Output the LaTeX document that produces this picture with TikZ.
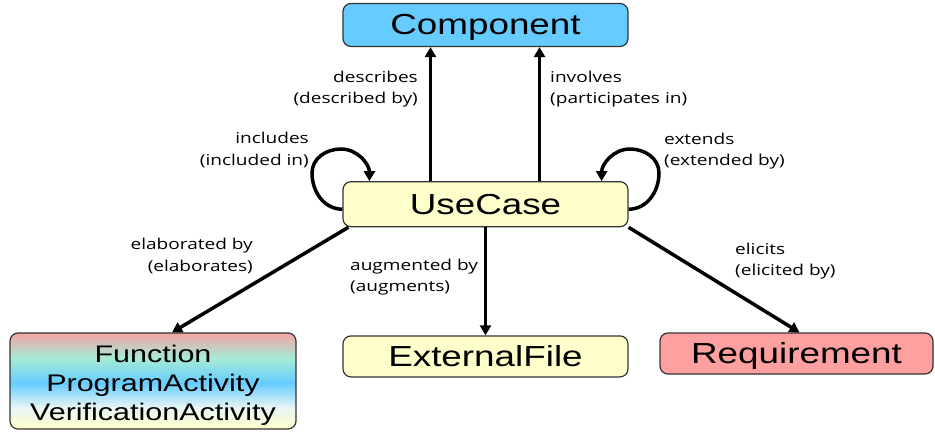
\documentclass[tikz,border=0pt]{standalone}
\usepackage{fontspec}
\usetikzlibrary{arrows.meta, positioning, calc}
\newfontfamily\boxfont[FakeStretch=1.27]{Liberation Sans}
\newfontfamily\lblfont[FakeStretch=1.27]{Open Sans}

\definecolor{compblue}{HTML}{66CCFF}
\definecolor{ucyellow}{HTML}{FFFFCC}
\definecolor{reqred}{HTML}{FFA0A0}
\definecolor{fnpink}{HTML}{F4A4A4}
\definecolor{fnmint}{HTML}{A6EBD6}
\definecolor{fnwhite}{HTML}{E8F6F4}

\pgfdeclareverticalshading{fnshade}{100bp}{%
	color(0bp)=(ucyellow); color(25bp)=(ucyellow); color(36bp)=(fnwhite);
	color(49bp)=(compblue); color(62bp)=(fnmint); color(75bp)=(fnpink);
	color(100bp)=(fnpink)}

\begin{document}
\begin{tikzpicture}[
		x=1pt, y=-1pt,
		box/.style={
			draw=black!80,
			line width=1.2pt,
			rectangle,
			rounded corners=8pt,
			align=center,
			inner sep=0pt,
			minimum width=285pt,
			minimum height=43pt,
			text height=26pt,
			text depth=6pt,
			font=\boxfont\fontsize{29}{34}\selectfont
		},
		lbl/.style={
			inner sep=0pt,
			font=\lblfont\fontsize{15}{21.5}\selectfont
		},
		arrow/.style={-{Triangle[length=10pt,width=11pt]}, line width=3.5pt}
		]
		\useasboundingbox (0,0) rectangle (935,433);
		
		% ---- Nodes ----
		\node[box, fill=compblue] (component) at (485.5,25) {Component};
		
		\node[box, fill=ucyellow, minimum height=45pt, below=134pt of component] (usecase) {UseCase};
		
		\node[box, fill=ucyellow, minimum height=41pt, below=108pt of usecase] (extfile) {ExternalFile};
		
		\node[box, shading=fnshade, minimum width=286pt, minimum height=96pt,
			text height=83pt, text depth=5pt,
			font=\boxfont\fontsize{24}{29}\selectfont] (function) at (153,381)
		{Function\\ProgramActivity\\VerificationActivity};
		
		\node[box, fill=reqred, minimum width=273pt, minimum height=41pt] (requirement) at (796.5,353.5) {Requirement};
		
		% ---- Arrows ----
		\draw[arrow] ([xshift=-55pt]usecase.north) -- ([xshift=-55pt]component.south);
		\draw[arrow] ([xshift=54pt]usecase.north) -- ([xshift=54pt]component.south);
		
		\draw[arrow] ([yshift=-5pt]usecase.west) to[out=180,in=270] (312,173)
		to[out=90,in=180] (341,149) to[out=0,in=90] ([xshift=27pt]usecase.north west);
		\draw[arrow] ([yshift=-5pt]usecase.east) to[out=0,in=270] (659,173)
		to[out=90,in=0] (630,149) to[out=180,in=90] ([xshift=-27pt]usecase.north east);
		
		\draw[arrow] ([xshift=6pt]usecase.south west) -- ([xshift=19pt]function.north);
		\draw[arrow] (usecase.south) -- (extfile.north);
		\draw[arrow] (usecase.south east) -- ([xshift=3pt]requirement.north);
		
		% ---- Labels ----
		\node[lbl, align=right, anchor=east] (lbldesc) at (418,89) {describes\\(described by)};
		\node[lbl, align=left, anchor=west] (lblinv) at (550,89) {involves\\(participates in)};
		\node[lbl, align=right, anchor=east] (lblincl) at (309,150) {includes\\(included in)};
		\node[lbl, align=left, anchor=west] (lblext) at (664,151) {extends\\(extended by)};
		\node[lbl, align=right, anchor=east] (lblelab) at (253,256) {elaborated by\\(elaborates)};
		\node[lbl, align=left, anchor=west] (lblaug) at (350,277) {augmented by\\(augments)};
		\node[lbl, align=left, anchor=west] (lblelic) at (735,261) {elicits\\(elicited by)};
		
	\end{tikzpicture}
\end{document}
